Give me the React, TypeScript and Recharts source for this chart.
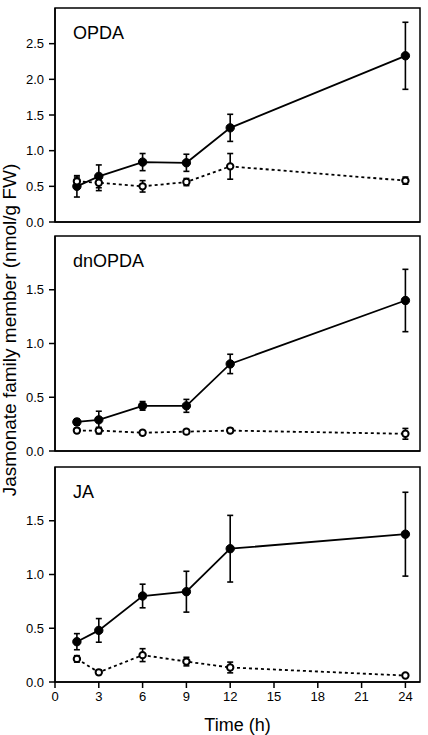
import React from 'react';
import { LineChart, Line, XAxis, YAxis, ErrorBar, ReferenceArea } from 'recharts';

// sampling times (h)
const times = [1.5, 3, 6, 9, 12, 24];
const xTicks = [0, 3, 6, 9, 12, 15, 18, 21, 24];

// OPDA
const opdaFilled = [0.5, 0.64, 0.84, 0.83, 1.32, 2.33];
const opdaFilledErr = [0.15, 0.16, 0.12, 0.12, 0.19, 0.47];
const opdaOpen = [0.57, 0.55, 0.5, 0.56, 0.78, 0.58];
const opdaOpenErr = [0.06, 0.11, 0.08, 0.05, 0.18, 0.05];

// dnOPDA
const dnFilled = [0.27, 0.29, 0.42, 0.42, 0.81, 1.4];
const dnFilledErr = [0.03, 0.08, 0.04, 0.06, 0.09, 0.29];
const dnOpen = [0.19, 0.19, 0.17, 0.18, 0.19, 0.16];
const dnOpenErr = [0.02, 0.03, 0.02, 0.02, 0.02, 0.05];

// JA
const jaFilled = [0.375, 0.48, 0.8, 0.84, 1.24, 1.375];
const jaFilledErr = [0.075, 0.11, 0.11, 0.19, 0.31, 0.39];
const jaOpen = [0.215, 0.09, 0.25, 0.19, 0.135, 0.06];
const jaOpenErr = [0.03, 0.02, 0.06, 0.04, 0.05, 0.01];

const W = 428;
const XMAX = 25;

interface PanelProps {
  title: string;
  filled: number[];
  filledErr: number[];
  open: number[];
  openErr: number[];
  yMax: number;
  yTicks: number[];
  top: number;
  height: number;
  marginTop: number;
  bottomAxis?: boolean;
}

const Panel: React.FC<PanelProps> = ({
  title, filled, filledErr, open, openErr, yMax, yTicks, top, height, marginTop, bottomAxis,
}) => {
  const data = times.map((t, i) => ({
    t,
    f: filled[i],
    fe: filledErr[i],
    o: open[i],
    oe: openErr[i],
  }));

  return (
    <div style={{ position: 'absolute', left: 0, top }}>
      <LineChart width={W} height={height} data={data} margin={{ top: marginTop, right: 8, left: 0, bottom: 0 }}>
        <XAxis
          dataKey="t"
          type="number"
          domain={[0, XMAX]}
          ticks={xTicks}
          interval={0}
          allowDataOverflow
          stroke="#000"
          strokeWidth={1.5}
          tickSize={6}
          tickMargin={4}
          height={bottomAxis ? 53 : 7}
          tick={bottomAxis ? { fontSize: 13, fill: '#000' } : false}
          label={bottomAxis ? { value: 'Time (h)', position: 'insideBottom', offset: 4, fontSize: 18, fill: '#000' } : undefined}
        />
        <YAxis
          type="number"
          domain={[0, yMax]}
          ticks={yTicks}
          interval={0}
          width={55}
          stroke="#000"
          strokeWidth={1.5}
          tickSize={6}
          tickMargin={5}
          tick={{ fontSize: 13, fill: '#000' }}
          tickFormatter={(v: number) => v.toFixed(1)}
        />
        <ReferenceArea
          x1={0}
          x2={XMAX}
          y1={0}
          y2={yMax}
          fill="none"
          fillOpacity={0}
          stroke="#000"
          strokeWidth={1.5}
          label={{ value: title, position: 'insideTopLeft', offset: 18, fontSize: 18, fill: '#000' }}
        />
        <Line
          dataKey="f"
          type="linear"
          stroke="#000"
          strokeWidth={1.8}
          dot={{ r: 4.2, fill: '#000', stroke: '#000', strokeWidth: 1 }}
          activeDot={false}
          isAnimationActive={false}
        >
          <ErrorBar dataKey="fe" width={3} stroke="#000" strokeWidth={1.6} direction="y" isAnimationActive={false} />
        </Line>
        <Line
          dataKey="o"
          type="linear"
          stroke="#000"
          strokeWidth={1.8}
          strokeDasharray="3 3"
          dot={{ r: 3.2, fill: '#fff', stroke: '#000', strokeWidth: 2, strokeDasharray: '0' }}
          activeDot={false}
          isAnimationActive={false}
        >
          <ErrorBar dataKey="oe" width={3} stroke="#000" strokeWidth={1.6} direction="y" isAnimationActive={false} />
        </Line>
      </LineChart>
    </div>
  );
};

export default function App() {
  return (
    <div
      style={{
        position: 'absolute',
        left: 0,
        top: 0,
        width: W,
        height: 735,
        background: '#fff',
        fontFamily: '"Liberation Sans", Arial, sans-serif',
      }}
    >
      <Panel title="OPDA" filled={opdaFilled} filledErr={opdaFilledErr} open={opdaOpen} openErr={opdaOpenErr}
        yMax={3} yTicks={[0, 0.5, 1, 1.5, 2, 2.5]} top={0} height={229} marginTop={8} />
      <Panel title="dnOPDA" filled={dnFilled} filledErr={dnFilledErr} open={dnOpen} openErr={dnOpenErr}
        yMax={2} yTicks={[0, 0.5, 1, 1.5]} top={229} height={229} marginTop={7} />
      <Panel title="JA" filled={jaFilled} filledErr={jaFilledErr} open={jaOpen} openErr={jaOpenErr}
        yMax={2} yTicks={[0, 0.5, 1, 1.5]} top={458} height={277} marginTop={9} bottomAxis />
      <svg width={30} height={735} style={{ position: 'absolute', left: 0, top: 0 }}>
        <text
          x={0}
          y={0}
          transform="translate(16 330) rotate(-90)"
          textAnchor="middle"
          fontSize={19}
          fill="#000"
        >
          Jasmonate family member (nmol/g FW)
        </text>
      </svg>
    </div>
  );
}
